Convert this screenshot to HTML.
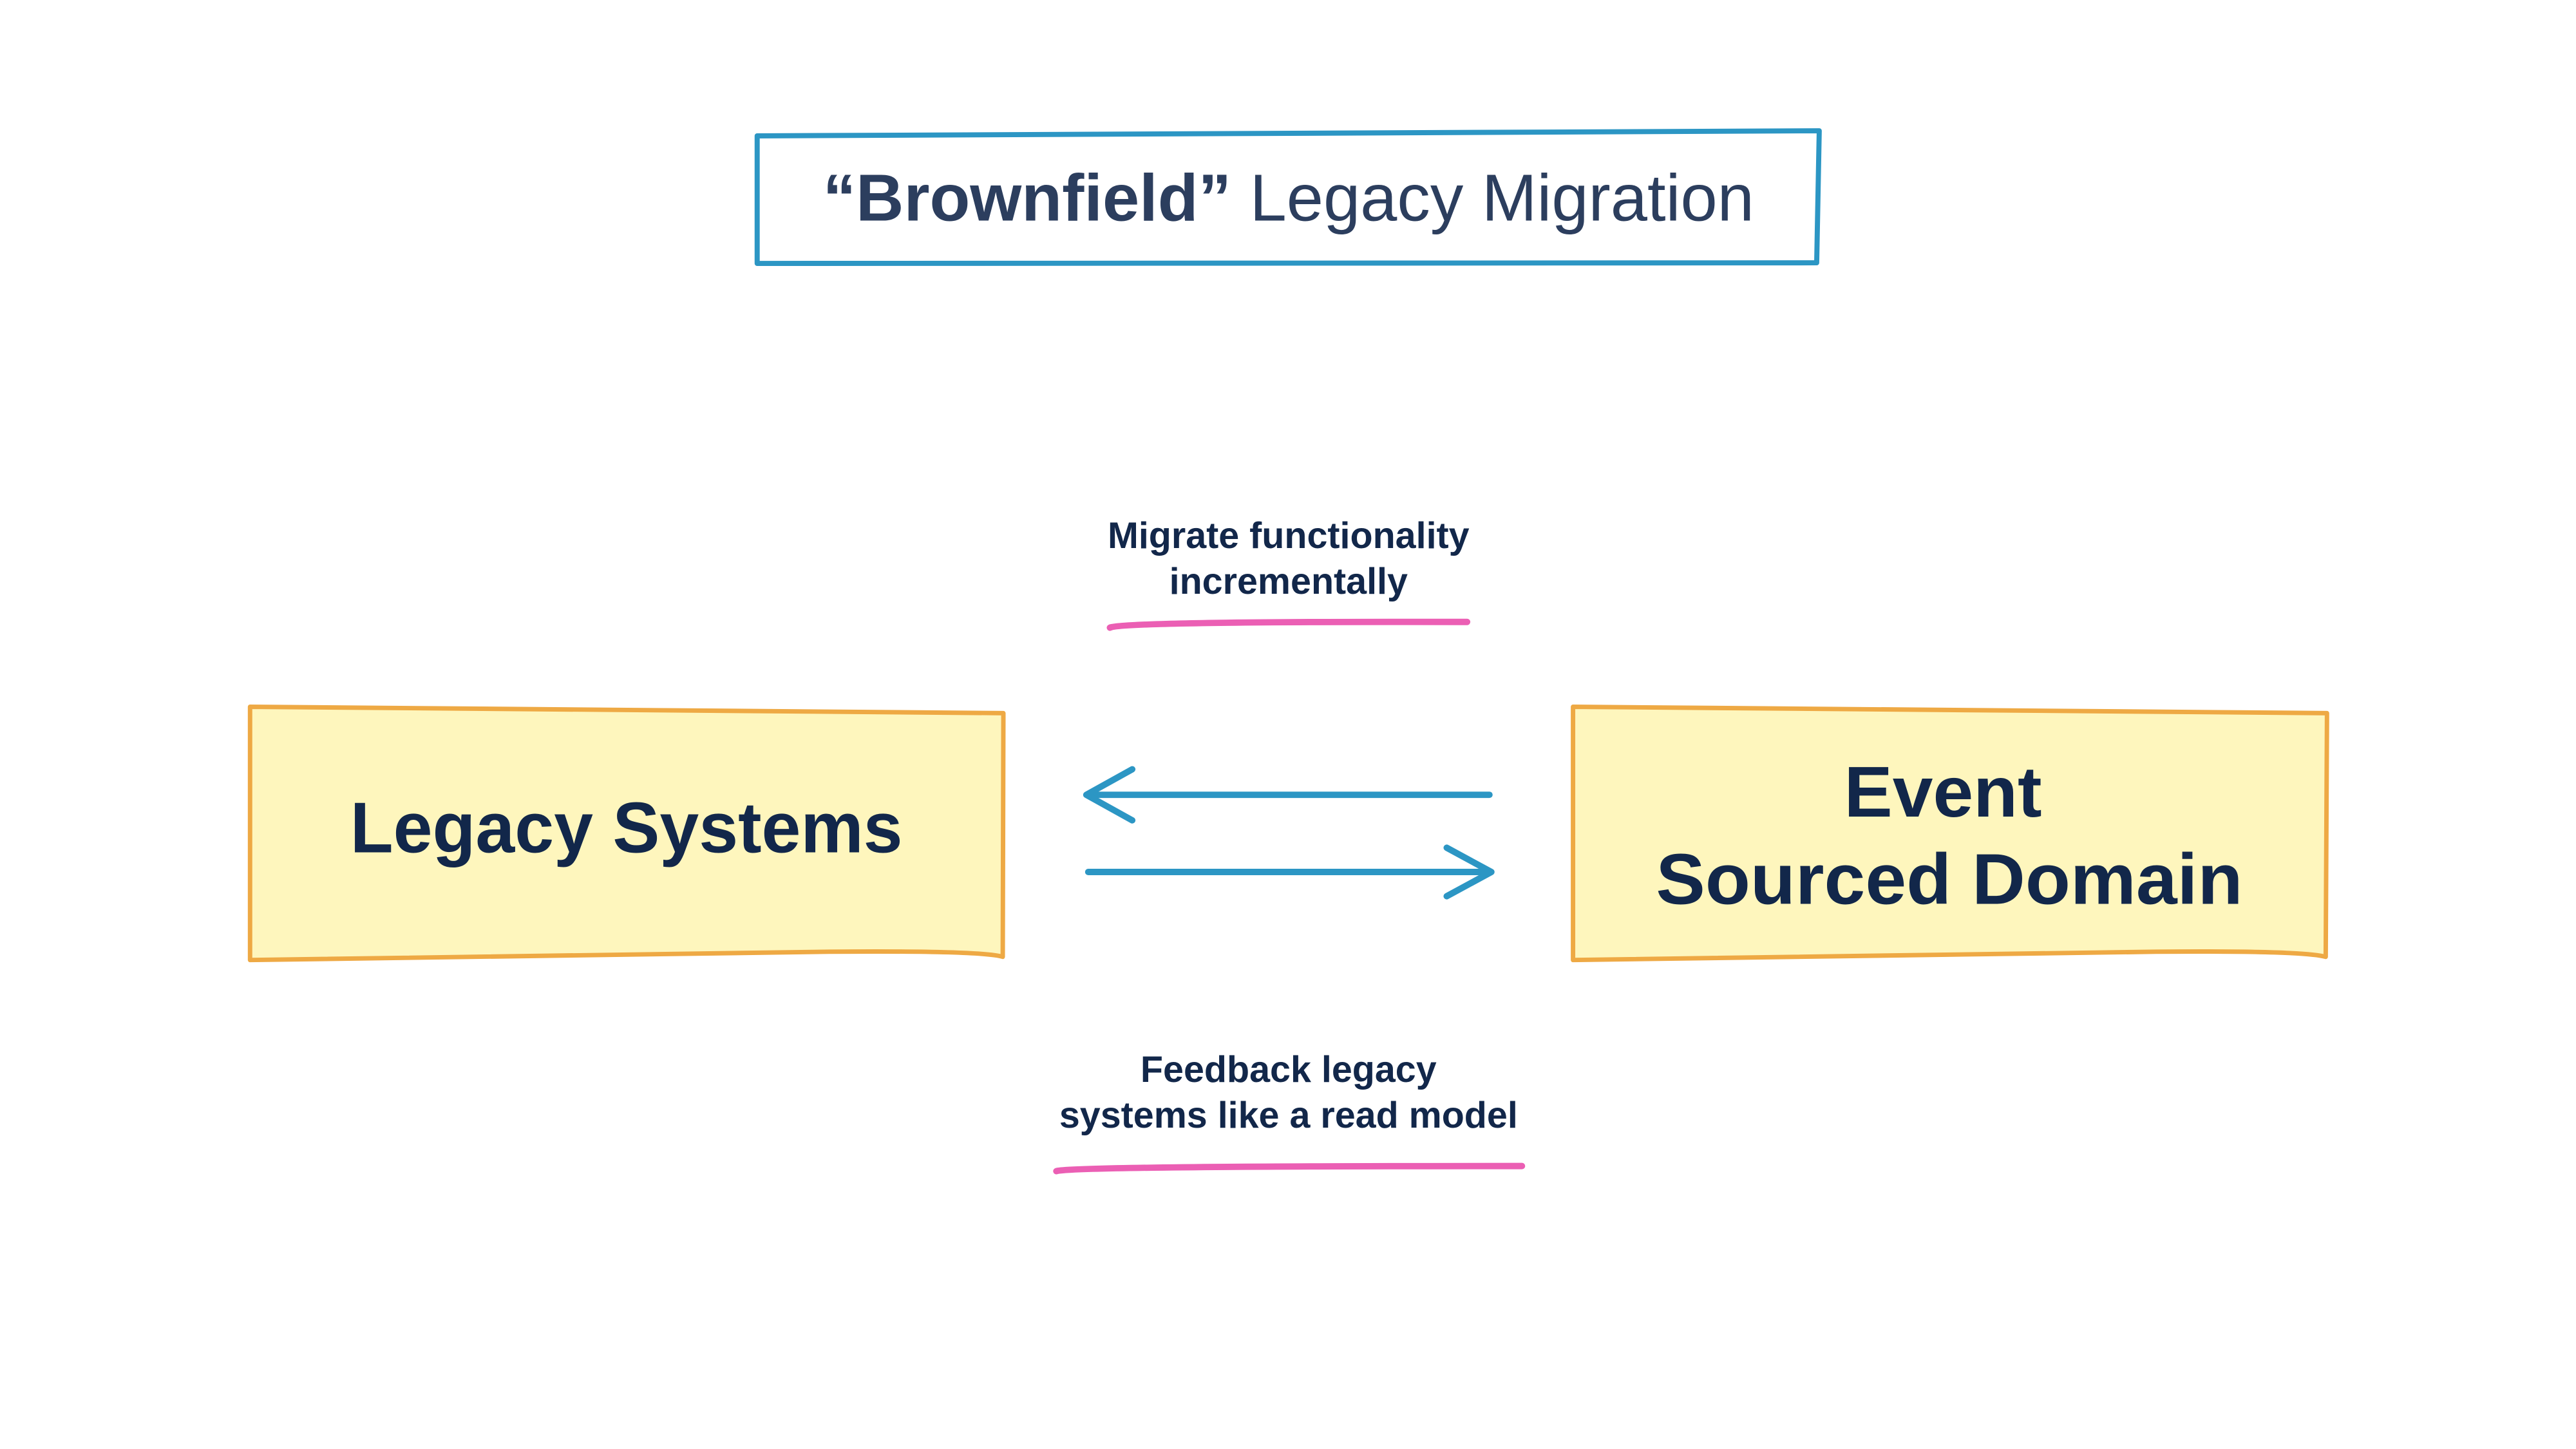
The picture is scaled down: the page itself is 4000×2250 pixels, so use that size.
<!DOCTYPE html>
<html><head><meta charset="utf-8"><style>
html,body{margin:0;padding:0;background:#fff;}
svg{display:block;}
text{font-family:"Liberation Sans",sans-serif;}
</style></head><body>
<svg width="4000" height="2250" viewBox="0 0 4000 2250" xmlns="http://www.w3.org/2000/svg">
<rect width="4000" height="2250" fill="#fff"/>
<g transform="scale(0.9905)">
<!-- title box -->
<path d="M1187 213 L2852 205 L2848 412 L1187 413 Z" fill="#fff" stroke="#2c96c4" stroke-width="8" stroke-linejoin="round"/>
<text x="2020" y="346" text-anchor="middle" font-size="104" fill="#2c3e5e" textLength="1460" lengthAdjust="spacingAndGlyphs"><tspan font-weight="bold">“Brownfield”</tspan> Legacy Migration</text>
<!-- left box -->
<path d="M392 1108 Q900 1112 1573 1118 L1572 1500 Q1540 1490 1300 1492 L392 1505 Z" fill="#fef6bd" stroke="#eea944" stroke-width="7" stroke-linejoin="round"/>
<text x="982" y="1336" text-anchor="middle" font-size="112" font-weight="bold" fill="#12274a" textLength="866" lengthAdjust="spacingAndGlyphs">Legacy Systems</text>
<!-- right box -->
<path d="M2466 1108 Q3000 1112 3648 1118 L3646 1500 Q3610 1490 3380 1492 L2466 1505 Z" fill="#fef6bd" stroke="#eea944" stroke-width="7" stroke-linejoin="round"/>
<text x="3046" y="1280" text-anchor="middle" font-size="112" font-weight="bold" fill="#12274a" textLength="310" lengthAdjust="spacingAndGlyphs">Event</text>
<text x="3056" y="1417" text-anchor="middle" font-size="112" font-weight="bold" fill="#12274a" textLength="920" lengthAdjust="spacingAndGlyphs">Sourced Domain</text>
<!-- arrows -->
<g stroke="#2c96c4" stroke-width="10" fill="none" stroke-linecap="round" stroke-linejoin="round">
<path d="M2335 1246 L1705 1246"/>
<path d="M1775 1206 L1703 1246 L1775 1286"/>
<path d="M1706 1367 L2337 1367"/>
<path d="M2268 1329 L2338 1367 L2268 1405"/>
</g>
<!-- labels -->
<text x="2020" y="859" text-anchor="middle" font-size="58" font-weight="bold" fill="#12274a">Migrate functionality</text>
<text x="2020" y="931" text-anchor="middle" font-size="58" font-weight="bold" fill="#12274a">incrementally</text>
<path d="M1740 984 Q1760 974 2300 975" stroke="#eb5fb4" stroke-width="10" fill="none" stroke-linecap="round"/>
<text x="2020" y="1696" text-anchor="middle" font-size="58" font-weight="bold" fill="#12274a">Feedback legacy</text>
<text x="2020" y="1768" text-anchor="middle" font-size="58" font-weight="bold" fill="#12274a">systems like a read model</text>
<path d="M1656 1836 Q1680 1828 2386 1828" stroke="#eb5fb4" stroke-width="10" fill="none" stroke-linecap="round"/>
</g>
</svg>
</body></html>
